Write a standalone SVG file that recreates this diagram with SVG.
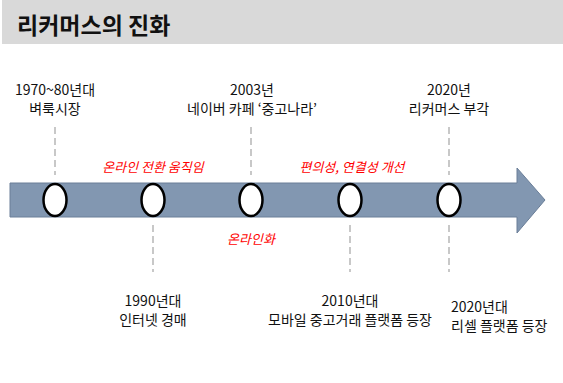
<svg xmlns="http://www.w3.org/2000/svg" width="563" height="383" viewBox="0 0 563 383">
<style>
.t{font-family:"Noto Sans CJK KR","Liberation Sans",sans-serif;font-size:14px;fill:#111;text-anchor:middle}
.r{font-family:"Noto Sans CJK KR","Liberation Sans",sans-serif;font-size:13px;fill:#ff0000;font-style:italic;text-anchor:middle}
.d{stroke:#c8c8c8;stroke-width:2;stroke-dasharray:7 4;fill:none}
.o{fill:#fff;stroke:#000;stroke-width:2.5}
</style>
<rect x="2" y="0" width="561" height="44" fill="#d9d9d9"/>
<text x="17" y="34" font-family="'Noto Sans CJK KR',sans-serif" font-size="23" font-weight="bold" fill="#111">리커머스의 진화</text>
<g id="connectors">
<line class="d" x1="55" y1="127" x2="55" y2="175"/>
<line class="d" x1="251" y1="127" x2="251" y2="175"/>
<line class="d" x1="449" y1="127" x2="449" y2="175"/>
<line class="d" x1="153" y1="225" x2="153" y2="272"/>
<line class="d" x1="350" y1="225" x2="350" y2="272"/>
<line class="d" x1="449" y1="225" x2="449" y2="272"/>
</g>
<g id="arrow">
<polygon points="10,183 517,183 517,168 545,200 517,233 517,217 10,217" fill="#8297b1" stroke="#6a7e98" stroke-width="1"/>
</g>
<g id="n1"><ellipse class="o" cx="55" cy="200" rx="11.5" ry="16"/><text class="t" x="55" y="95">1970~80년대</text><text class="t" x="55" y="114">벼룩시장</text></g>
<g id="n2"><ellipse class="o" cx="153" cy="200" rx="11.5" ry="16"/><text class="t" x="153" y="306">1990년대</text><text class="t" x="153" y="325">인터넷 경매</text></g>
<g id="n3"><ellipse class="o" cx="251" cy="200" rx="11.5" ry="16"/><text class="t" x="252" y="95">2003년</text><text class="t" x="252" y="114">네이버 카페 ‘중고나라’</text></g>
<g id="n4"><ellipse class="o" cx="350" cy="200" rx="11.5" ry="16"/><text class="t" x="350" y="306">2010년대</text><text class="t" x="350" y="325">모바일 중고거래 플랫폼 등장</text></g>
<g id="n5"><ellipse class="o" cx="449" cy="200" rx="11.5" ry="16"/><text class="t" x="449" y="95">2020년</text><text class="t" x="449" y="114">리커머스 부각</text></g>
<g id="n6"><text class="t" x="451" y="312" style="text-anchor:start">2020년대</text><text class="t" x="451" y="331" style="text-anchor:start">리셀 플랫폼 등장</text></g>
<g id="labels">
<text class="r" x="153" y="172">온라인 전환 움직임</text>
<text class="r" x="352" y="172">편의성, 연결성 개선</text>
<text class="r" x="251" y="244">온라인화</text>
</g>
</svg>
